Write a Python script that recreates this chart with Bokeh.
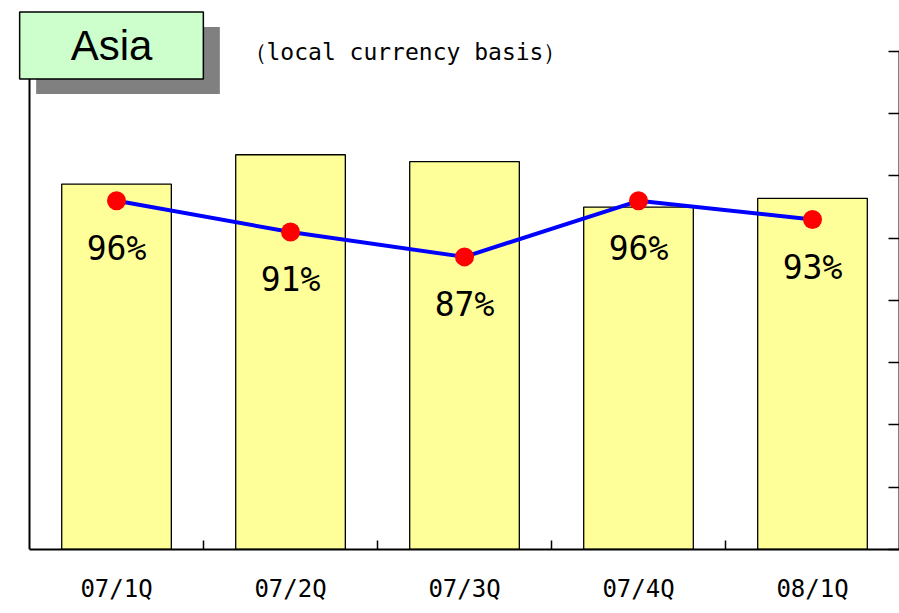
from bokeh.plotting import figure
from bokeh.models import Range1d, LinearAxis, FixedTicker, ColumnDataSource, Label, LabelSet
from bokeh.embed import file_html
from bokeh.resources import INLINE
from bokeh.core.properties import value

# ---- data ----
quarters = ["07/1Q", "07/2Q", "07/3Q", "07/4Q", "08/1Q"]
sales_index = [587, 634, 623, 550, 564]      # bar heights (relative, unlabeled axis)
ratio_pct = [96, 91, 87, 96, 93]             # line values (%)
ratio_labels = [f"{r}%" for r in ratio_pct]
title_text = "Asia"
subtitle_text = "（local currency basis）"

# ---- layout geometry (pixels) ----
W, H = 899, 605
FL, FT, FB = 10, 5, 55          # frame left / top / bottom borders
AX_LEFT_PX = 19                 # axis x=0 sits this far right of the frame edge
AX_TOP_PX = 46                  # axis top sits this far below the frame top
frame_w = W - FL - 1
frame_h = H - FT - FB
n = len(quarters)
x_start = -AX_LEFT_PX * n / (frame_w - AX_LEFT_PX)
bar_max, pct_lo, pct_hi = 800, 40, 120
plot_h = frame_h - AX_TOP_PX
y_end = bar_max * frame_h / plot_h
pct_end = pct_lo + (pct_hi - pct_lo) * frame_h / plot_h

xs = [i + 0.5 for i in range(n)]
src = ColumnDataSource(dict(x=xs, sales=sales_index, ratio=ratio_pct, lbl=ratio_labels))

p = figure(width=W, height=H, x_range=Range1d(x_start, n), y_range=Range1d(0, y_end),
           x_axis_type=None, y_axis_type=None, output_backend="svg", toolbar_location=None,
           min_border_left=FL, min_border_right=0, min_border_top=FT, min_border_bottom=FB)
p.outline_line_color = None
p.background_fill_color = "white"
p.border_fill_color = "white"
p.extra_y_ranges = {"pct": Range1d(pct_lo, pct_end)}

mono = "DejaVu Sans Mono"

# bottom axis: labels at centers, inner ticks at category boundaries
xaxis = LinearAxis(
    bounds=(0, n),
    ticker=FixedTicker(ticks=xs, minor_ticks=[float(i) for i in range(1, n)]),
    major_label_overrides={x: q for x, q in zip(xs, quarters)},
    major_tick_in=0, major_tick_out=0, minor_tick_in=9, minor_tick_out=0,
    minor_tick_line_color="black", minor_tick_line_width=1.5,
    axis_line_color="black", axis_line_width=2,
    major_label_text_font=mono, major_label_text_font_size="24px",
    major_label_text_color="black", major_label_standoff=25)
p.add_layout(xaxis, "below")

# left axis: line only, at x = 0
yaxis = LinearAxis(fixed_location=0, bounds=(0, bar_max), ticker=FixedTicker(ticks=[]),
                   major_tick_in=0, major_tick_out=0, minor_tick_in=0, minor_tick_out=0,
                   axis_line_color="black", axis_line_width=2,
                   major_label_text_font_size="1px", major_label_text_color=None,
                   major_label_standoff=0)
p.add_layout(yaxis, "left")

# right axis: inner ticks, no labels
rticks = list(range(pct_lo, pct_hi + 1, 10))
raxis = LinearAxis(y_range_name="pct", bounds=(pct_lo, pct_hi),
                   ticker=FixedTicker(ticks=rticks),
                   major_label_overrides={t: "" for t in rticks},
                   major_tick_in=11, major_tick_out=0, minor_tick_in=0, minor_tick_out=0,
                   major_tick_line_color="black", major_tick_line_width=1.5,
                   axis_line_color="black", axis_line_width=2,
                   major_label_text_font_size="1px", major_label_text_color=None,
                   major_label_standoff=0)
p.add_layout(raxis, "right")

p.vbar(x="x", top="sales", bottom=0, width=0.63, source=src,
       fill_color="#FFFF99", line_color="black", line_width=1.3)
p.line(x="x", y="ratio", source=src, y_range_name="pct", line_color="#0000FF", line_width=4)
p.scatter(x="x", y="ratio", source=src, y_range_name="pct", size=19,
          fill_color="#FF0000", line_color=None)

p.add_layout(LabelSet(x="x", y="ratio", text="lbl", source=src, y_range_name="pct",
                      y_offset=-48, text_align="center", text_baseline="middle",
                      text_font=value(mono), text_font_size="33px", text_color="black"))

# title box with shadow (screen units: from frame bottom-left, y up)
pad = dict(left=51, right=51, top=10, bottom=10)
shadow = Label(x=117.5, y=489, x_units="screen", y_units="screen", text=title_text,
               text_align="center", text_baseline="middle", text_font="Liberation Sans",
               text_font_size="42px", text_color="#808080", background_fill_color="#808080",
               padding=pad)
box = Label(x=101, y=504, x_units="screen", y_units="screen", text=title_text,
            text_align="center", text_baseline="middle", text_font="Liberation Sans",
            text_font_size="42px", text_color="black", background_fill_color="#CCFFCC",
            border_line_color="black", border_line_width=1.5, padding=pad)
sub = Label(x=233, y=498, x_units="screen", y_units="screen", text=subtitle_text,
            text_align="left", text_baseline="alphabetic", text_font=mono,
            text_font_size="23px", text_color="black")
p.add_layout(shadow)
p.add_layout(box)
p.add_layout(sub)

open("out.html", "w").write(file_html(p, INLINE))
